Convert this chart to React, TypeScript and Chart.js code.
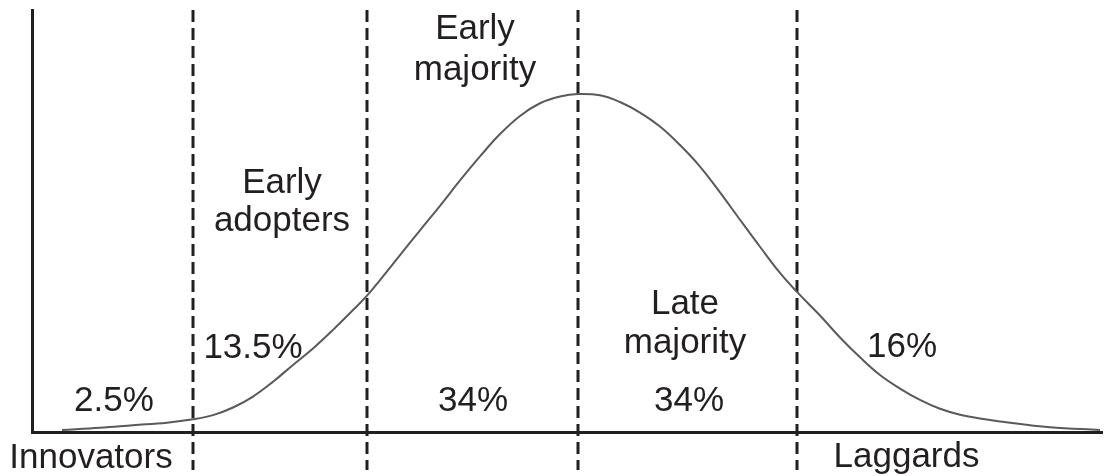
import React, { useEffect, useRef } from "react";
import { Chart, registerables } from "chart.js";

Chart.register(...registerables);

// Adoption curve samples (x: time units, y: relative share of adopters)
const curveX = [3.0, 6.8, 10.1, 13.5, 16.1, 18.1, 20.1, 22.1, 24.1, 26.1, 28.1, 30.1, 32.1, 33.5, 34.8, 36.8, 38.8, 40.8, 42.8, 44.8, 46.8, 48.8, 50.8, 52.8, 54.6, 56.8, 58.8, 60.8, 62.8, 64.8, 66.8, 68.8, 70.8, 72.8, 74.8, 76.5, 78.8, 80.8, 82.8, 84.8, 86.8, 88.8, 90.8, 92.8, 94.8, 96.8, 101.8, 106.8];
const curveY = [0.5, 1.0, 1.6, 2.2, 3.0, 4.0, 5.8, 8.4, 11.9, 15.9, 19.8, 24.2, 28.9, 32.3, 36.0, 41.9, 47.8, 53.6, 59.6, 65.3, 70.6, 74.9, 77.9, 79.5, 80.1, 79.8, 78.2, 75.7, 72.4, 68.0, 62.9, 56.8, 50.3, 43.9, 37.7, 33.2, 27.6, 22.4, 17.7, 13.5, 10.3, 7.6, 5.5, 4.1, 3.2, 2.5, 1.1, 0.5];

// Segment boundaries (dashed lines)
const boundaries = [16.1, 33.5, 54.6, 76.5];
const boundaryTop = 100;
const boundaryBottom = -9;

// Text annotations: text, x, y (baseline)
const labelTexts = ["Early", "majority", "Early", "adopters", "Late", "majority", "13.5%", "2.5%", "34%", "34%", "16%", "Innovators", "Laggards"];
const labelX = [44.3, 44.3, 25.0, 25.0, 65.3, 65.3, 22.1, 8.2, 44.1, 65.7, 87.0, 5.9, 87.45];
const labelY = [93.1, 83.4, 56.6, 47.7, 28.0, 18.7, 17.5, 5.0, 5.0, 5.0, 17.8, -8.5, -8.3];

const INK = "#231f20";

const labelPlugin = {
  id: "labelPlugin",
  afterDatasetsDraw(chart: any) {
    const { ctx, scales } = chart;
    ctx.save();
    ctx.fillStyle = INK;
    ctx.font = '35px "Liberation Sans", Arial, sans-serif';
    ctx.textAlign = "center";
    ctx.textBaseline = "alphabetic";
    labelTexts.forEach((t, i) => {
      ctx.fillText(t, scales.x.getPixelForValue(labelX[i]), scales.y.getPixelForValue(labelY[i]));
    });
    ctx.restore();
  },
};

export default function App() {
  const ref = useRef<HTMLCanvasElement>(null);
  useEffect(() => {
    if (!ref.current) return;
    const curve = curveX.map((x, i) => ({ x, y: curveY[i] }));
    const dashSets = boundaries.map((b) => ({
      type: "line" as const,
      data: [
        { x: b, y: boundaryTop },
        { x: b, y: boundaryBottom },
      ],
      borderColor: INK,
      borderWidth: 3,
      borderDash: [12, 6],
      pointRadius: 0,
      clip: false as any,
      tension: 0,
    }));
    const chart = new Chart(ref.current, {
      type: "line",
      data: {
        datasets: [
          {
            data: curve,
            borderColor: "#5a5a5a",
            borderWidth: 2,
            pointRadius: 0,
            tension: 0.4,
            fill: false,
          },
          ...dashSets,
        ] as any,
      },
      options: {
        animation: false,
        responsive: false,
        events: [],
        layout: { padding: { left: 32, right: 3, top: 10, bottom: 44 } },
        plugins: { legend: { display: false }, tooltip: { enabled: false } },
        scales: {
          x: {
            type: "linear",
            min: 0,
            max: 107,
            grid: { display: false, drawTicks: false },
            ticks: { display: false },
            border: { display: true, color: INK, width: 3 },
          },
          y: {
            type: "linear",
            min: 0,
            max: 100,
            grid: { display: false, drawTicks: false },
            ticks: { display: false },
            border: { display: true, color: INK, width: 3 },
          },
        },
      },
      plugins: [labelPlugin],
    });
    return () => chart.destroy();
  }, []);
  return (
    <div style={{ position: "absolute", left: 0, top: 0, width: 1105, height: 476, background: "#fff" }}>
      <canvas ref={ref} width={1105} height={476} style={{ display: "block" }} />
    </div>
  );
}
